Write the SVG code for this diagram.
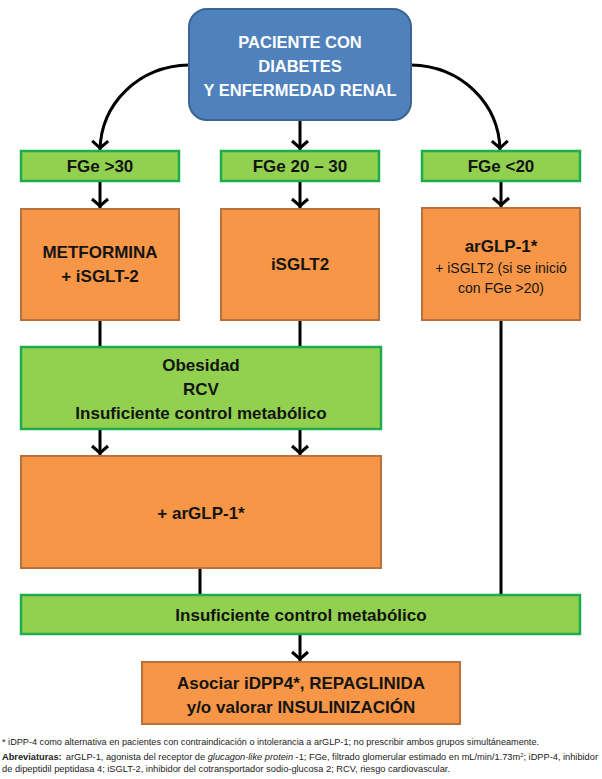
<svg xmlns="http://www.w3.org/2000/svg" width="602" height="779" viewBox="0 0 602 779">
<defs>
<style>
.blue{fill:#4F81BD;stroke:#3A6494;stroke-width:2}
.green{fill:#92D050;stroke:#1EAD4E;stroke-width:2.5}
.orange{fill:#F79646;stroke:#B8713B;stroke-width:2}
.t{font-family:"Liberation Sans",Arial,sans-serif;font-weight:bold;font-size:17px;fill:#141414;text-anchor:middle}
.w{fill:#FFFFFF;font-size:16.5px}
.n{font-weight:normal;font-size:14px}
.conn{fill:none;stroke:#000;stroke-width:3}
.fn{font-family:"Liberation Sans",Arial,sans-serif;font-size:8.8px;fill:#222}
</style>
<marker id="ah" viewBox="-10 -10 20 20" refX="2" refY="0" markerWidth="20" markerHeight="20" markerUnits="userSpaceOnUse" orient="auto">
<path d="M-7,-8 L0,0 L-7,8" fill="none" stroke="#000" stroke-width="3"/>
</marker>
</defs>
<rect width="602" height="779" fill="#fff"/>

<g id="connectors" class="conn">
<path d="M300,120 L300,150" marker-end="url(#ah)"/>
<path d="M189,65 C138,66 101,104 100,150" marker-end="url(#ah)"/>
<path d="M411,65 C462,66 499,104 500,150" marker-end="url(#ah)"/>
<path d="M100,181 L100,208" marker-end="url(#ah)"/>
<path d="M300,181 L300,208" marker-end="url(#ah)"/>
<path d="M501,181 L501,207" marker-end="url(#ah)"/>
<path d="M100,320 L100,347"/>
<path d="M300,320 L300,347"/>
<path d="M100,429 L100,455" marker-end="url(#ah)"/>
<path d="M300,429 L300,455" marker-end="url(#ah)"/>
<path d="M200,568 L200,595"/>
<path d="M501,320 L501,595"/>
<path d="M300,634 L300,661" marker-end="url(#ah)"/>
</g>

<g id="n-paciente">
<rect class="blue" x="189" y="9" width="222" height="111" rx="18"/>
<text class="t w" x="300" y="48">PACIENTE CON</text>
<text class="t w" x="300" y="72">DIABETES</text>
<text class="t w" x="300" y="96">Y ENFERMEDAD RENAL</text>
</g>

<g id="n-fge30">
<rect class="green" x="21" y="151" width="158" height="30"/>
<text class="t" x="100" y="172">FGe &gt;30</text>
</g>
<g id="n-fge2030">
<rect class="green" x="221" y="151" width="158" height="30"/>
<text class="t" x="300" y="172">FGe 20 – 30</text>
</g>
<g id="n-fge20">
<rect class="green" x="422" y="151" width="158" height="30"/>
<text class="t" x="501" y="172">FGe &lt;20</text>
</g>

<g id="n-metformina">
<rect class="orange" x="21" y="209" width="158" height="111"/>
<text class="t" x="100" y="258">METFORMINA</text>
<text class="t" x="100" y="282">+ iSGLT-2</text>
</g>
<g id="n-isglt2">
<rect class="orange" x="221" y="209" width="158" height="111"/>
<text class="t" x="300" y="270">iSGLT2</text>
</g>
<g id="n-arglp">
<rect class="orange" x="422" y="208" width="158" height="112"/>
<text class="t" x="501" y="252">arGLP-1*</text>
<text class="t n" x="501" y="273">+ iSGLT2 (si se inició</text>
<text class="t n" x="501" y="293">con FGe &gt;20)</text>
</g>

<g id="n-obesidad">
<rect class="green" x="21" y="347" width="360" height="82"/>
<text class="t" x="201" y="371">Obesidad</text>
<text class="t" x="201" y="395">RCV</text>
<text class="t" x="201" y="419">Insuficiente control metabólico</text>
</g>

<g id="n-arglp2">
<rect class="orange" x="21" y="456" width="360" height="112"/>
<text class="t" x="201" y="519">+ arGLP-1*</text>
</g>

<g id="n-insuficiente">
<rect class="green" x="21" y="595" width="559" height="39"/>
<text class="t" x="301" y="621">Insuficiente control metabólico</text>
</g>

<g id="n-asociar">
<rect class="orange" x="142" y="662" width="318" height="62"/>
<text class="t" x="301" y="689">Asociar iDPP4*, REPAGLINIDA</text>
<text class="t" x="301" y="713">y/o valorar INSULINIZACIÓN</text>
</g>

<g id="footnote">
<text class="fn" x="2" y="745" textLength="537" lengthAdjust="spacingAndGlyphs">* iDPP-4 como alternativa en pacientes con contraindicación o intolerancia a arGLP-1; no prescribir ambos grupos simultáneamente.</text>
<text class="fn" x="2" y="760" textLength="596" lengthAdjust="spacingAndGlyphs"><tspan font-weight="bold">Abreviaturas:</tspan><tspan dx="4">arGLP-1, agonista del receptor de </tspan><tspan font-style="italic">glucagon-like protein</tspan> -1; FGe, filtrado glomerular estimado en mL/min/1.73m<tspan font-size="5.5" dy="-3">2</tspan><tspan dy="3">; iDPP-4, inhibidor</tspan></text>
<text class="fn" x="2" y="772" textLength="448" lengthAdjust="spacingAndGlyphs">de dipeptidil peptidasa 4; iSGLT-2, inhibidor del cotransportador sodio-glucosa 2; RCV, riesgo cardiovascular.</text>
</g>
</svg>
